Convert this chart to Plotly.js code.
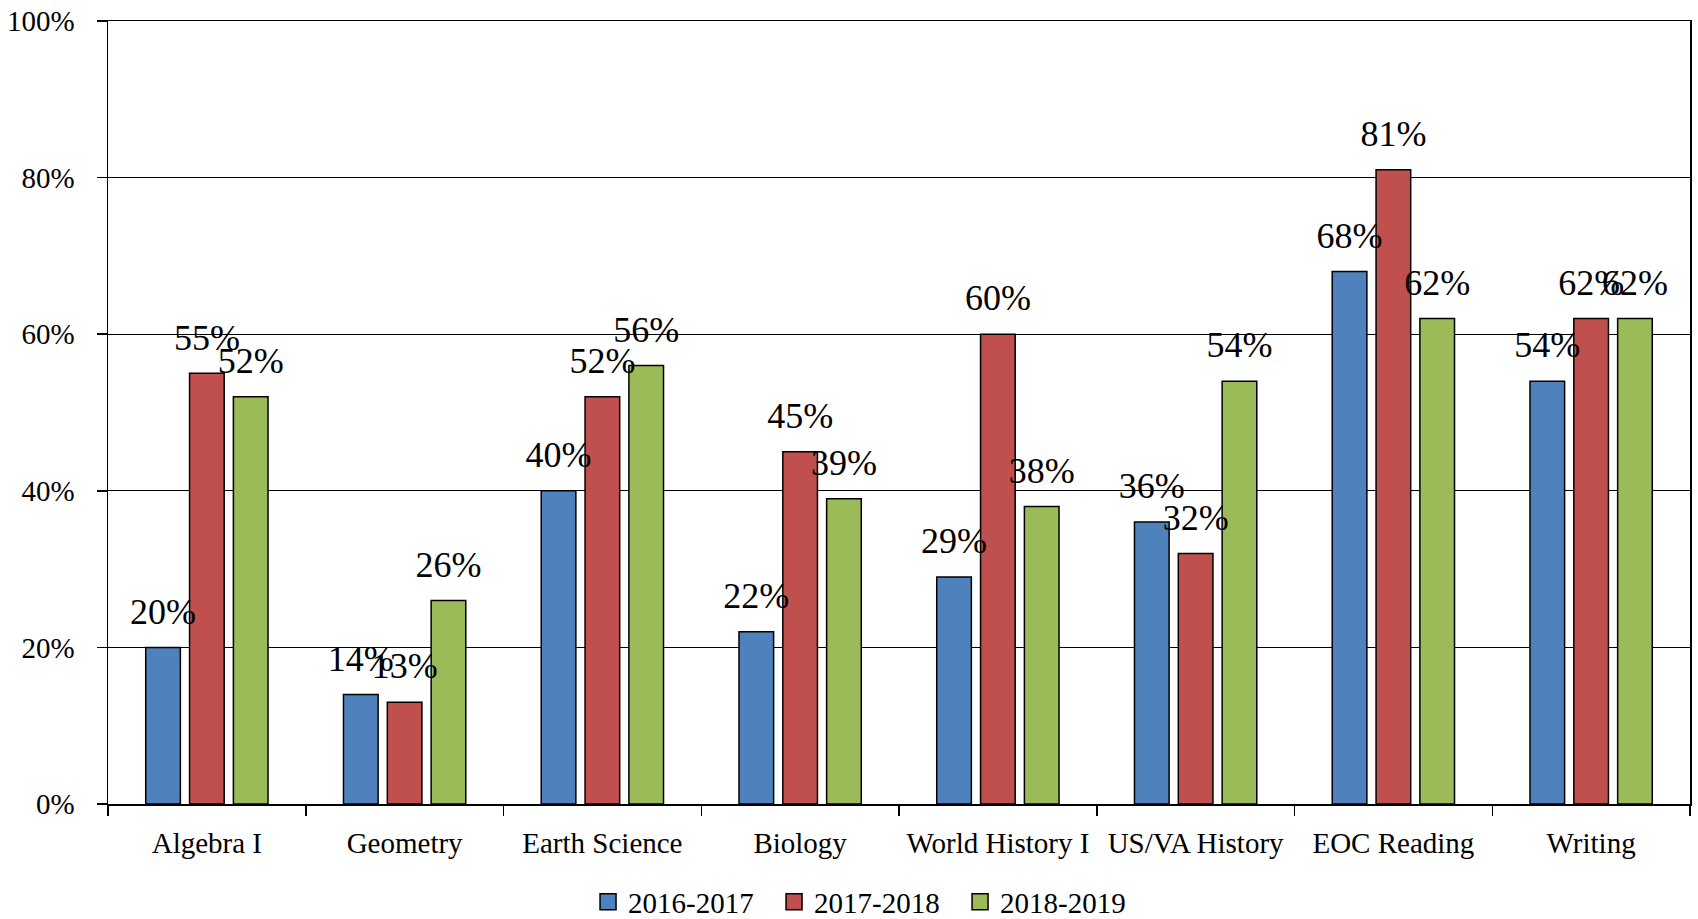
<!DOCTYPE html>
<html>
<head>
<meta charset="utf-8">
<script src="https://cdn.plot.ly/plotly-3.0.1.min.js"></script>
<style>html,body{margin:0;padding:0;background:#fff;}#chart{width:1698px;height:919px;}</style>
</head>
<body>
<div id="chart"></div>
<script>
const categories = ["Algebra I", "Geometry", "Earth Science", "Biology", "World History I", "US/VA History", "EOC Reading", "Writing"];
const seriesNames = ["2016-2017", "2017-2018", "2018-2019"];
const values2016 = [20, 14, 40, 22, 29, 36, 68, 54];
const values2017 = [55, 13, 52, 45, 60, 32, 81, 62];
const values2018 = [52, 26, 56, 39, 38, 54, 62, 62];
const yTicks = [0, 20, 40, 60, 80, 100];
const yTickLabels = ["0%", "20%", "40%", "60%", "80%", "100%"];

const colors = ["#4F81BD", "#C0504D", "#9BBB59"];
const FONT = "'Palatino Linotype', 'Book Antiqua', Palatino, 'Liberation Serif', serif";

const allValues = [values2016, values2017, values2018];

const barTraces = allValues.map((vals, i) => ({
  type: "bar",
  name: seriesNames[i],
  x: categories,
  y: vals,
  marker: { color: colors[i], line: { color: "#000", width: 1.5 } },
  showlegend: false,
  hoverinfo: "x+y+name"
}));

const labelTraces = allValues.map((vals, i) => ({
  type: "scatter",
  mode: "markers+text",
  name: seriesNames[i],
  x: categories,
  y: vals,
  text: vals.map(v => v + "%"),
  textposition: "top center",
  textfont: { family: FONT, size: 36, color: "#000" },
  marker: { size: 22, opacity: 0, color: colors[i] },
  cliponaxis: false,
  showlegend: false,
  hoverinfo: "skip"
}));

const legendTraces = seriesNames.map((name, i) => ({
  type: "scatter",
  mode: "markers",
  name: name,
  x: [null],
  y: [null],
  xaxis: "x2",
  yaxis: "y2",
  marker: { symbol: "square", size: 16, color: colors[i], line: { color: "#000", width: 1.5 } },
  showlegend: true,
  hoverinfo: "skip"
}));

const layout = {
  width: 1698,
  height: 919,
  margin: { l: 108, r: 8, t: 21, b: 115, autoexpand: false },
  paper_bgcolor: "#fff",
  plot_bgcolor: "#fff",
  font: { family: FONT, color: "#000", size: 28 },
  barmode: "group",
  bargap: 0.335,
  bargroupgap: 0.21,
  scattermode: "group",
  scattergap: 0.335,
  showlegend: true,
  legend: {
    orientation: "h",
    x: 0.4798, xanchor: "center",
    y: -0.125, yanchor: "middle",
    font: { family: FONT, size: 29, color: "#000" },
    itemwidth: 30,
    entrywidth: 141,
    entrywidthmode: "pixels",
    traceorder: "normal"
  },
  xaxis: {
    type: "category",
    tickson: "boundaries",
    ticks: "outside",
    ticklen: 10,
    tickwidth: 1.5,
    tickcolor: "#000",
    showline: true,
    linecolor: "#000",
    linewidth: 1.5,
    mirror: true,
    showgrid: false,
    automargin: false,
    ticklabelstandoff: 13,
    tickfont: { family: FONT, size: 29, color: "#000" }
  },
  yaxis: {
    range: [0, 100],
    tickmode: "array",
    tickvals: yTicks,
    ticktext: yTickLabels,
    ticks: "outside",
    ticklen: 10,
    tickwidth: 1.5,
    tickcolor: "#000",
    showline: true,
    linecolor: "#000",
    linewidth: 1.5,
    mirror: true,
    showgrid: true,
    gridcolor: "#000",
    gridwidth: 1.3,
    zeroline: false,
    automargin: false,
    ticklabelstandoff: 16,
    tickfont: { family: FONT, size: 29, color: "#000" }
  },
  xaxis2: { overlaying: "x", visible: false, range: [0, 1] },
  yaxis2: { overlaying: "y", visible: false, range: [0, 1] }
};

Plotly.newPlot("chart", barTraces.concat(labelTraces, legendTraces), layout, { displayModeBar: false, staticPlot: true });
</script>
</body>
</html>
